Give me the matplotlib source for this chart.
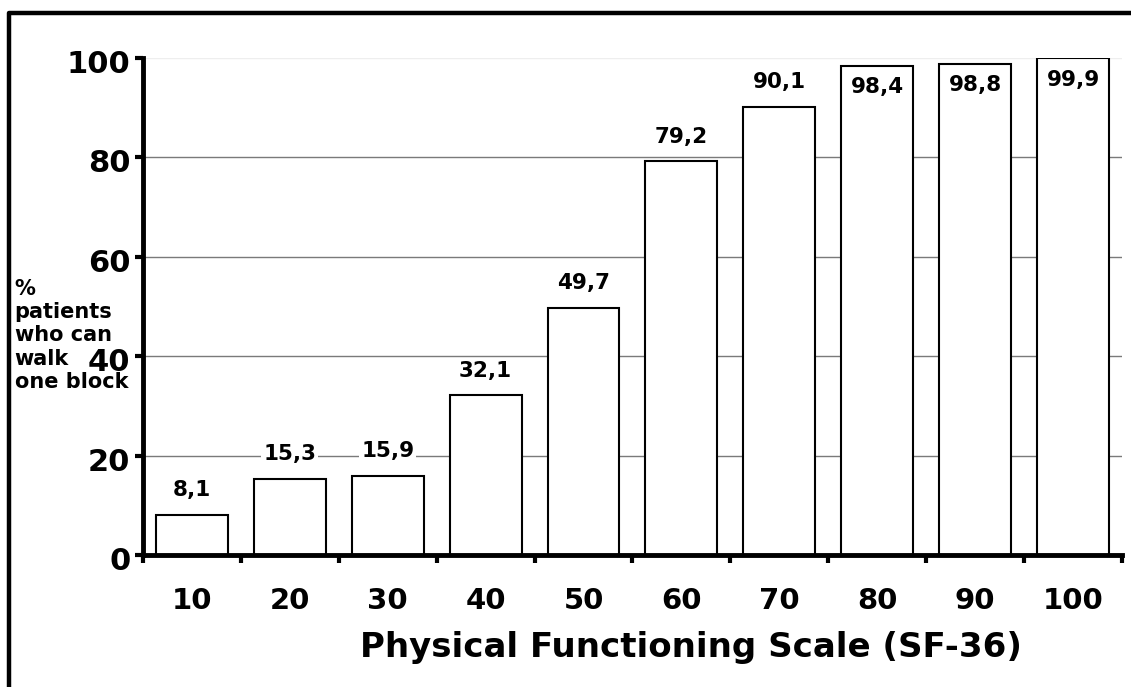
import numpy as np
import matplotlib
matplotlib.use("Agg")
import matplotlib.pyplot as plt
from matplotlib.lines import Line2D
from matplotlib.transforms import ScaledTranslation

# PF scores and share of patients able to walk one block
categories = ["10", "20", "30", "40", "50", "60", "70", "80", "90", "100"]
percent_walk = [8.1, 15.3, 15.9, 32.1, 49.7, 79.2, 90.1, 98.4, 98.8, 99.9]
y_ticks = [0, 20, 40, 60, 80, 100]

plt.rcParams['font.family'] = ['DejaVu Sans']
plt.rcParams['font.weight'] = 'bold'

fig = plt.figure(figsize=(11.31, 6.87), dpi=100)
ax = fig.add_axes([0.1264, 0.1921, 0.8656, 0.7235])

x = np.arange(len(categories))
bars = ax.bar(x, percent_walk, width=0.735, color='white', edgecolor='black',
              linewidth=1.5, zorder=3)

# value labels: above the bar, or inside when the bar reaches the top
for xi, v in zip(x, percent_walk):
    ypos = v + 5.0 if v < 92 else v - 4.3
    ax.text(xi, ypos, f"{v:.1f}".replace('.', ','), ha='center', va='center',
            fontsize=15.5, fontweight='bold', zorder=4,
            bbox=dict(facecolor='white', edgecolor='none', pad=1.5) if v < 92 else None)

ax.set_xlim(-0.5, len(categories) - 0.5)
ax.set_ylim(0, 100)

# horizontal grid
for g in y_ticks[1:-1]:
    ax.axhline(g, color='#7a7a7a', linewidth=1.0, zorder=1)
ax.axhline(100, color='#eeeeee', linewidth=1.0, zorder=1)

# boundary ticks below the axis, labels centred under bars
ax.set_xticks(np.arange(len(categories) + 1) - 0.5)
ax.set_xticklabels([])
ax.set_xticks(x, categories, minor=True)
ax.tick_params(axis='x', which='major', direction='out', length=6, width=3)
ax.tick_params(axis='x', which='minor', length=0, pad=23, labelsize=21)
for lab in ax.get_xticklabels(minor=True):
    lab.set_fontweight('bold')

ax.set_yticks(y_ticks)
ax.set_yticklabels([str(t) for t in y_ticks], fontsize=22, fontweight='bold')
ax.tick_params(axis='y', direction='out', length=6, width=3, pad=3)
offset = ScaledTranslation(0, -2.5 / 72, fig.dpi_scale_trans)
for lab in ax.get_yticklabels():
    lab.set_transform(lab.get_transform() + offset)

for side in ['top', 'right']:
    ax.spines[side].set_visible(False)
for side in ['left', 'bottom']:
    ax.spines[side].set_linewidth(3.5)
    ax.spines[side].set_zorder(5)

fig.text(0.611, 0.057, "Physical Functioning Scale (SF-36)", ha='center',
         va='center', fontsize=24.5, fontweight='bold')
fig.text(0.013, 0.594, "%\npatients\nwho can\nwalk\none block", ha='left',
         va='top', fontsize=15, fontweight='bold', linespacing=1.2)

# frame on left and top
fig.add_artist(Line2D([0.0078, 0.0078, 1.0], [0.0, 0.981, 0.981],
                      color='black', linewidth=3.2, transform=fig.transFigure))

fig.savefig("out.png", dpi=100, facecolor='white')
